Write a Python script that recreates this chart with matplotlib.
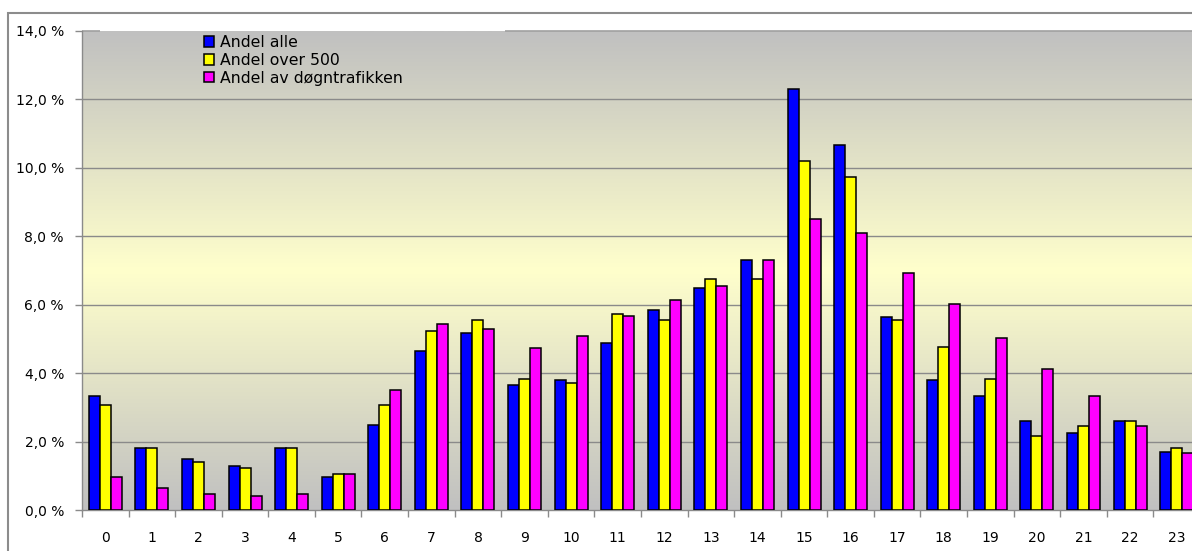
import numpy as np
import matplotlib
matplotlib.use("Agg")
import matplotlib.pyplot as plt
from matplotlib.colors import LinearSegmentedColormap
from matplotlib.patches import Rectangle
from matplotlib.ticker import FuncFormatter, FixedLocator

# Timer på døgnet
hours = list(range(24))
# Andel per time (%)
andel_alle = [3.32, 1.82, 1.48, 1.28, 1.82, 0.97, 2.48, 4.65, 5.18, 3.66, 3.80, 4.87,
              5.85, 6.48, 7.31, 12.30, 10.67, 5.63, 3.80, 3.32, 2.59, 2.26, 2.59, 1.70]
andel_over_500 = [3.07, 1.82, 1.39, 1.23, 1.82, 1.06, 3.07, 5.24, 5.55, 3.84, 3.70, 5.73,
                  5.55, 6.75, 6.75, 10.21, 9.74, 5.56, 4.77, 3.84, 2.17, 2.46, 2.59, 1.82]
andel_dogn = [0.97, 0.63, 0.46, 0.42, 0.46, 1.06, 3.50, 5.43, 5.29, 4.74, 5.08, 5.68,
              6.14, 6.54, 7.31, 8.50, 8.11, 6.92, 6.02, 5.04, 4.13, 3.32, 2.46, 1.66]

series = [
    ("Andel alle", andel_alle, "#0000ff"),
    ("Andel over 500", andel_over_500, "#ffff00"),
    ("Andel av døgntrafikken", andel_dogn, "#ff00ff"),
]

plt.rcParams["font.family"] = ["DejaVu Sans"]

W, H = 1192, 551
fig = plt.figure(figsize=(W / 100, H / 100), dpi=100)
fig.patch.set_facecolor("white")

# ytre ramme rundt diagrammet
fig.patches.append(Rectangle((8 / W, -0.1), 1.2, (H - 13) / H + 0.1, transform=fig.transFigure,
                             fill=False, edgecolor="#8c8c8c", linewidth=1.5, clip_on=False))

# plottområdet går litt utenfor bildet til høyre
ax = fig.add_axes([82 / W, 1 - 510 / H, 1118 / W, 479 / H])

# bakgrunn: grå - lys gul - grå
cmap = LinearSegmentedColormap.from_list("bg", ["#c0c0c0", "#ffffcc", "#c0c0c0"])
grad = np.linspace(0, 1, 256).reshape(-1, 1)
ax.imshow(grad, cmap=cmap, aspect="auto", extent=[-0.5, 23.5, 0, 14], origin="lower", zorder=0)

x = np.arange(len(hours))
w = 0.236
for i, (label, vals, col) in enumerate(series):
    ax.bar(x + (i - 1) * w, vals, w, color=col, edgecolor="black", linewidth=1.1,
           label=label, zorder=3)

ax.set_xlim(-0.5, 23.5)
ax.set_ylim(0, 14)

# rutenett
for yv in range(2, 14, 2):
    ax.axhline(yv, color="#8a8a8a", linewidth=1.0, zorder=1)
ax.hlines(14, -0.5, -0.11, color="#a0a0a0", linewidth=1.2, zorder=1, clip_on=False)
ax.hlines(14, 8.58, 23.5, color="#a0a0a0", linewidth=1.2, zorder=1, clip_on=False)

for s in ["top", "right"]:
    ax.spines[s].set_visible(False)
for s in ["left", "bottom"]:
    ax.spines[s].set_color("#8a8a8a")
    ax.spines[s].set_linewidth(1.0)

ax.set_yticks(np.arange(0, 15, 2))
ax.yaxis.set_major_formatter(FuncFormatter(lambda v, p: f"{v:.1f} %".replace(".", ",")))
ax.set_xticks(x)
ax.set_xticklabels([str(h) for h in hours])
ax.xaxis.set_minor_locator(FixedLocator(np.arange(-0.5, 24, 1)))
ax.tick_params(axis="x", which="major", length=0, pad=15, labelsize=10)
ax.tick_params(axis="x", which="minor", length=5, color="#8a8a8a", width=1)
ax.tick_params(axis="y", length=5, color="#8a8a8a", width=1, pad=8, labelsize=10)

fig.legend(loc="upper left", bbox_to_anchor=(204 / W, 1 - 35 / H), frameon=False,
           fontsize=11.3, handlelength=0.65, handleheight=0.65, handletextpad=0.4,
           labelspacing=0.18, borderpad=0, borderaxespad=0)

fig.savefig("out.png", dpi=100)
